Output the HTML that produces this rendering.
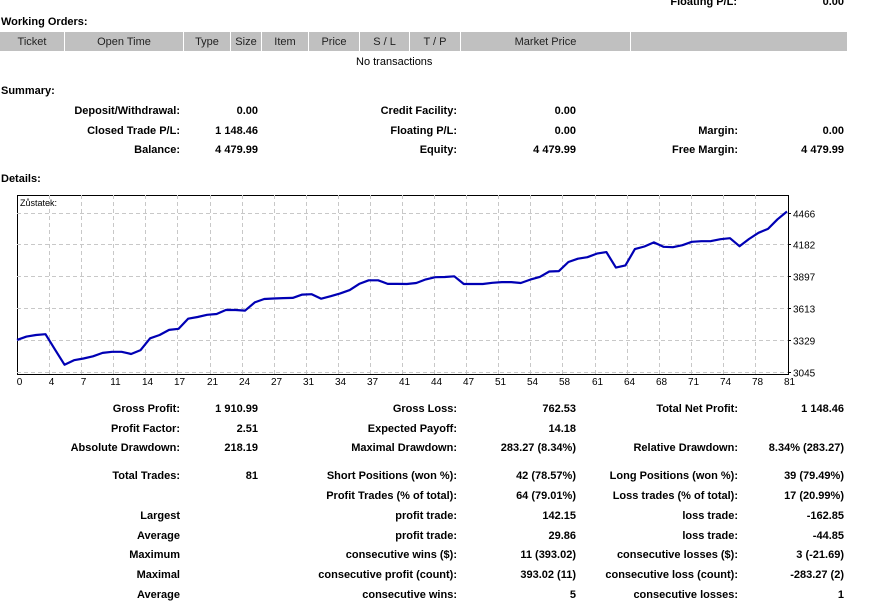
<!DOCTYPE html>
<html><head><meta charset="utf-8"><style>
body{margin:0;width:879px;height:607px;overflow:hidden;background:#fff;font-family:"Liberation Sans",Tahoma,sans-serif;font-size:11px;color:#000;position:relative}
.t{position:absolute;white-space:nowrap;line-height:13px}
.b{font-weight:bold}
.r{text-align:right}
.h{position:absolute;top:32px;height:19px;background:#c0c0c0;line-height:21px;text-align:center;color:#222}
</style></head><body>
<div class="t b r" style="right:142px;top:-4px">Floating P/L:</div>
<div class="t b r" style="right:35px;top:-4px">0.00</div>
<div class="t b" style="left:1px;top:16px">Working Orders:</div>
<div>
<div class="h" style="left:0;width:64px">Ticket</div>
<div class="h" style="left:65px;width:118px">Open Time</div>
<div class="h" style="left:184px;width:46px">Type</div>
<div class="h" style="left:231px;width:30px">Size</div>
<div class="h" style="left:262px;width:46px">Item</div>
<div class="h" style="left:309px;width:50px">Price</div>
<div class="h" style="left:360px;width:49px">S / L</div>
<div class="h" style="left:410px;width:50px">T / P</div>
<div class="h" style="left:461px;width:169px">Market Price</div>
<div class="h" style="left:631px;width:216px"></div>
</div>
<div class="t" style="left:356px;top:56px">No transactions</div>
<div class="t b" style="left:1px;top:85px">Summary:</div>
<div class="t b" style="left:1px;top:173px">Details:</div>
<div id="sum"></div>
<div id="stats"></div>

<svg id="chart" style="position:absolute;left:0;top:190px" width="879" height="200"></svg>

<script>
const balances=[3331,3360,3375,3382,3245,3110,3150,3165,3185,3215,3225,3225,3205,3240,3345,3375,3420,3430,3520,3535,3555,3562,3598,3597,3592,3665,3695,3700,3703,3705,3735,3738,3698,3720,3745,3775,3830,3862,3862,3830,3830,3829,3838,3870,3890,3891,3898,3829,3829,3829,3840,3846,3846,3838,3868,3892,3940,3944,4025,4054,4068,4100,4113,3975,3995,4140,4163,4200,4160,4157,4175,4205,4210,4211,4228,4237,4166,4230,4285,4320,4405,4475];
const yTicks=[3045,3329,3613,3897,4182,4466];
const xTickLabels=[0,4,7,11,14,17,21,24,27,31,34,37,41,44,47,51,54,58,61,64,68,71,74,78,81];
const xTickPos=[0,3.375,6.75,10.125,13.5,16.875,20.25,23.625,27,30.375,33.75,37.125,40.5,43.875,47.25,50.625,54,57.375,60.75,64.125,67.5,70.875,74.25,77.625,81];

const NS='http://www.w3.org/2000/svg';
const svg=document.getElementById('chart');
const L=17,R=788,T=5,B=184;
const xS=i=>L+i*(R-1-L)/81;
const yS=v=>182-(v-3045)*(159.5/(4466-3045));
function mk(tag,attrs,parent){const e=document.createElementNS(NS,tag);for(const k in attrs)e.setAttribute(k,attrs[k]);(parent||svg).appendChild(e);return e;}
const frame=mk('rect',{x:L+0.5,y:T+0.5,width:R-L,height:B-T,fill:'#fff',stroke:'#000','stroke-width':1});


yTicks.forEach(v=>{
  const y=Math.round(yS(v))+0.5;
  const g=mk('line',{x1:L,x2:R,y1:y,y2:y,stroke:'#c8c8c8','stroke-dasharray':'4,3'});
  
  
  mk('line',{x1:R,x2:R+3,y1:y,y2:y,stroke:'#000'});
  const t=mk('text',{x:R+5,y:y+4,'font-size':'10','font-family':'Liberation Sans,sans-serif'});
  t.textContent=v;
  
  
});
xTickPos.forEach((p,k)=>{
  const x=Math.round(xS(p))+0.5;
  if(k>0&&k<xTickPos.length-1){
    const g=mk('line',{x1:x,x2:x,y1:T,y2:B,stroke:'#c8c8c8','stroke-dasharray':'4,3'});
    
    
  }
  const t=mk('text',{x:x+2,y:B+11,'font-size':'10','font-family':'Liberation Sans,sans-serif','text-anchor':'middle'});
  t.textContent=xTickLabels[k];
  
  
});
const lbl=mk('text',{x:L+3,y:T+11,'font-size':'9','font-family':'Liberation Sans,sans-serif'});
lbl.textContent='Zůstatek:';


const line=mk('polyline',{points:balances.map((v,i)=>xS(i).toFixed(1)+','+yS(v).toFixed(1)).join(' '),fill:'none',stroke:'#0000b4','stroke-width':2.2,'stroke-linejoin':'round'});



function addRows(containerId,rows){
  const c=document.getElementById(containerId);
  const rights=[[180,258],[457,576],[738,844]];
  rows.forEach(r=>{
    r.cells.forEach((cell,ci)=>{
      if(!cell)return;
      [0,1].forEach(j=>{
        if(!cell[j])return;
        const d=document.createElement('div');
        d.className='t b r';
        d.style.right=(879-rights[ci][j])+'px';
        d.style.top=(r.y-5)+'px';
        d.textContent=cell[j];
        
        
        c.appendChild(d);
      });
    });
  });
}
addRows('sum',[
 {y:110,cells:[['Deposit/Withdrawal:','0.00'],['Credit Facility:','0.00'],null]},
 {y:130,cells:[['Closed Trade P/L:','1 148.46'],['Floating P/L:','0.00'],['Margin:','0.00']]},
 {y:149,cells:[['Balance:','4 479.99'],['Equity:','4 479.99'],['Free Margin:','4 479.99']]}
]);
addRows('stats',[
 {y:408,cells:[['Gross Profit:','1 910.99'],['Gross Loss:','762.53'],['Total Net Profit:','1 148.46']]},
 {y:428,cells:[['Profit Factor:','2.51'],['Expected Payoff:','14.18'],null]},
 {y:447,cells:[['Absolute Drawdown:','218.19'],['Maximal Drawdown:','283.27 (8.34%)'],['Relative Drawdown:','8.34% (283.27)']]},
 {y:475,cells:[['Total Trades:','81'],['Short Positions (won %):','42 (78.57%)'],['Long Positions (won %):','39 (79.49%)']]},
 {y:495,cells:[null,['Profit Trades (% of total):','64 (79.01%)'],['Loss trades (% of total):','17 (20.99%)']]},
 {y:515,cells:[['Largest',''],['profit trade:','142.15'],['loss trade:','-162.85']]},
 {y:535,cells:[['Average',''],['profit trade:','29.86'],['loss trade:','-44.85']]},
 {y:554,cells:[['Maximum',''],['consecutive wins ($):','11 (393.02)'],['consecutive losses ($):','3 (-21.69)']]},
 {y:574,cells:[['Maximal',''],['consecutive profit (count):','393.02 (11)'],['consecutive loss (count):','-283.27 (2)']]},
 {y:594,cells:[['Average',''],['consecutive wins:','5'],['consecutive losses:','1']]}
]);
</script>
</body></html>
